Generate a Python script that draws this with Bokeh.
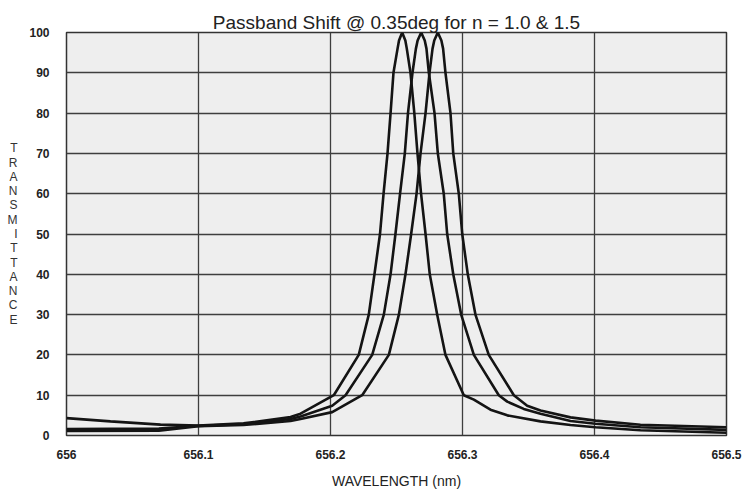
from bokeh.plotting import figure
from bokeh.models import FixedTicker, Range1d, Title
from bokeh.embed import file_html
from bokeh.resources import INLINE

# ---- data ----
title_text = "Passband Shift @ 0.35deg for n = 1.0 & 1.5"
x_label = "WAVELENGTH (nm)"
y_label = "TRANSMITTANCE"

x_ticks = [656.0, 656.1, 656.2, 656.3, 656.4, 656.5]
x_tick_labels = ["656", "656.1", "656.2", "656.3", "656.4", "656.5"]
y_ticks = [0, 10, 20, 30, 40, 50, 60, 70, 80, 90, 100]

wl_1 = [656.0, 656.0333, 656.0712, 656.1, 656.1341, 656.1697, 656.1773,
        656.2025, 656.2214, 656.229, 656.2333, 656.2375, 656.2402, 656.2432,
        656.2455, 656.2477, 656.2508, 656.2519, 656.2543, 656.2567, 656.2578,
        656.2606, 656.2635, 656.2659, 656.2686, 656.272, 656.2752, 656.2808,
        656.2871, 656.301, 656.3086, 656.3212, 656.3339, 656.3591, 656.3818,
        656.4008, 656.4348, 656.5]
tr_1 = [4.3, 3.5, 2.7, 2.5, 3.0, 4.6, 5.4,
        10, 20, 30, 40, 50, 60, 70, 80, 90, 96, 98,
        100,
        98, 96, 90, 80, 70, 60, 50, 40, 30, 20, 10,
        8.9, 6.4, 5.0, 3.5, 2.6, 2.05, 1.3, 0.7]

wl_2 = [656.0, 656.07, 656.1, 656.1341, 656.1697, 656.1773, 656.2013,
        656.2114, 656.2316, 656.2404, 656.2455, 656.2492, 656.2527, 656.2563,
        656.2587, 656.2621, 656.2647, 656.266, 656.2687, 656.2714, 656.2727,
        656.2745, 656.2788, 656.2813, 656.2858, 656.2884, 656.293, 656.299,
        656.3086, 656.3275, 656.3339, 656.3464, 656.3591, 656.3818, 656.4008,
        656.4348, 656.5]
tr_2 = [1.6, 1.7, 2.4, 2.8, 4.1, 4.7, 7.4,
        10, 20, 30, 40, 50, 60, 70, 80, 90, 96, 98,
        100,
        98, 96, 90, 80, 70, 60, 50, 40, 30, 20, 10,
        8.4, 6.6, 5.4, 3.6, 2.9, 2.05, 1.4]

wl_3 = [656.0, 656.07, 656.1, 656.1341, 656.1697, 656.1773, 656.2013,
        656.224, 656.2442, 656.2518, 656.2568, 656.2611, 656.2652, 656.2682,
        656.272, 656.275, 656.2773, 656.2786, 656.2813, 656.284, 656.2853,
        656.2871, 656.2909, 656.293, 656.2972, 656.2998, 656.304, 656.3098,
        656.3199, 656.3389, 656.349, 656.3591, 656.3818, 656.4008, 656.4348,
        656.5]
tr_3 = [1.1, 1.2, 2.3, 2.6, 3.6, 4.1, 5.8,
        10, 20, 30, 40, 50, 60, 70, 80, 90, 96, 98,
        100,
        98, 96, 90, 80, 70, 60, 50, 40, 30, 20, 10,
        7.4, 6.2, 4.5, 3.7, 2.65, 2.05]

# ---- figure ----
p = figure(width=744, height=491, output_backend="svg", toolbar_location=None,
           title=None,
           x_range=Range1d(656.0, 656.5), y_range=Range1d(0, 100),
           min_border_left=66, min_border_right=18,
           min_border_top=32, min_border_bottom=56)

p.background_fill_color = "#eeeeee"
p.border_fill_color = "white"
p.outline_line_color = "#333333"
p.outline_line_width = 1.5

p.xaxis.ticker = FixedTicker(ticks=x_ticks)
p.yaxis.ticker = FixedTicker(ticks=y_ticks)
p.xaxis.major_label_overrides = {t: l for t, l in zip(x_ticks, x_tick_labels)}

for ax in (p.xaxis, p.yaxis):
    ax.axis_line_color = None
    ax.major_tick_line_color = None
    ax.minor_tick_line_color = None
    ax.major_label_text_font = "Liberation Sans"
    ax.major_label_text_font_style = "bold"
    ax.major_label_text_font_size = "12px"
    ax.major_label_text_color = "#222222"
p.yaxis.major_label_standoff = 11
p.xaxis.major_label_standoff = 8

# x axis title
p.xaxis.axis_label = x_label
p.xaxis.axis_label_text_font = "Liberation Sans"
p.xaxis.axis_label_text_font_style = "normal"
p.xaxis.axis_label_text_font_size = "14px"
p.xaxis.axis_label_text_color = "#222222"
p.xaxis.axis_label_standoff = 11

# y axis title: letters stacked vertically
p.yaxis.axis_label = "\n".join(y_label)
p.yaxis.axis_label_text_font = "Liberation Sans"
p.yaxis.axis_label_text_font_style = "normal"
p.yaxis.axis_label_text_font_size = "12px"
p.yaxis.axis_label_text_color = "#333333"
p.yaxis.axis_label_text_line_height = 1.02
p.yaxis.axis_label_standoff = 9
p.yaxis.axis_label_orientation = "horizontal"

p.grid.grid_line_color = "#3e3e3e"
p.grid.grid_line_width = 1.3

for xs, ys in ((wl_1, tr_1), (wl_2, tr_2), (wl_3, tr_3)):
    p.line(xs, ys, line_color="#141414", line_width=2.6)

# chart title
p.add_layout(Title(text=title_text, align="center", standoff=0,
                   text_font="Liberation Sans", text_font_size="19px",
                   text_font_style="normal", text_color="#222222"), "above")

open("out.html", "w").write(file_html(p, INLINE))
